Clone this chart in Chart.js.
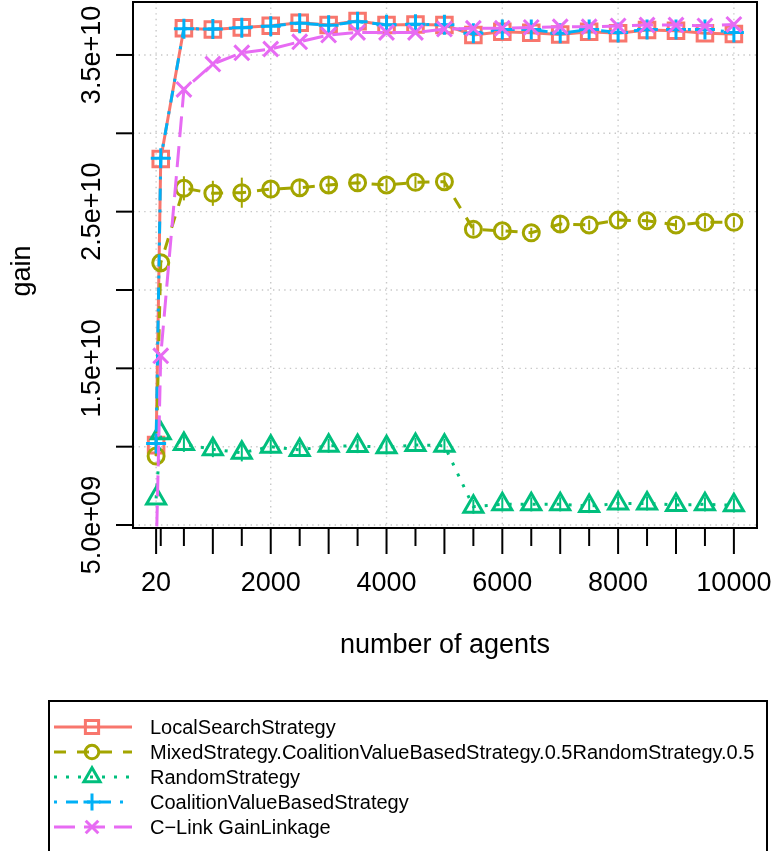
<!DOCTYPE html>
<html>
<head>
<meta charset="utf-8">
<script src="https://cdn.jsdelivr.net/npm/chart.js@4.4.1/dist/chart.umd.min.js"></script>
<style>
html,body{margin:0;padding:0;background:#ffffff;}
canvas{display:block;}
</style>
</head>
<body>
<canvas id="c" width="775" height="851"></canvas>
<script>
// ---------------- data ----------------
const agents = [20, 100, 500, 1000, 1500, 2000, 2500, 3000, 3500, 4000, 4500, 5000,
                5500, 6000, 6500, 7000, 7500, 8000, 8500, 9000, 9500, 10000];

const seriesNames = [
  "LocalSearchStrategy",
  "MixedStrategy.CoalitionValueBasedStrategy.0.5RandomStrategy.0.5",
  "RandomStrategy",
  "CoalitionValueBasedStrategy",
  "C\u2212Link GainLinkage"
];

const localSearch = [1.01e10, 2.836e10, 3.670e10, 3.663e10, 3.676e10, 3.686e10, 3.705e10, 3.691e10, 3.716e10, 3.691e10, 3.695e10,
                     3.691e10, 3.627e10, 3.648e10, 3.642e10, 3.631e10, 3.648e10, 3.638e10, 3.659e10, 3.654e10, 3.638e10, 3.634e10];
const mixed = [9.40e9, 2.174e10, 2.649e10, 2.617e10, 2.621e10, 2.644e10, 2.653e10, 2.670e10, 2.684e10, 2.670e10, 2.687e10,
               2.691e10, 2.387e10, 2.378e10, 2.365e10, 2.421e10, 2.415e10, 2.446e10, 2.442e10, 2.415e10, 2.432e10, 2.432e10];
const randomS = [6.70e9, 1.085e10, 1.017e10, 9.83e9, 9.61e9, 1.000e10, 9.79e9, 1.006e10, 1.004e10, 9.96e9, 1.011e10,
                 1.006e10, 6.17e9, 6.32e9, 6.32e9, 6.32e9, 6.21e9, 6.38e9, 6.38e9, 6.28e9, 6.32e9, 6.26e9];
const coalition = [1.02e10, 2.840e10, 3.668e10, 3.665e10, 3.674e10, 3.684e10, 3.703e10, 3.690e10, 3.712e10, 3.693e10, 3.696e10,
                   3.693e10, 3.638e10, 3.663e10, 3.663e10, 3.638e10, 3.663e10, 3.644e10, 3.663e10, 3.663e10, 3.663e10, 3.644e10];
const cLink = [3.0e9, 1.580e10, 3.280e10, 3.442e10, 3.514e10, 3.538e10, 3.584e10, 3.627e10, 3.644e10, 3.644e10, 3.644e10,
               3.665e10, 3.670e10, 3.670e10, 3.676e10, 3.680e10, 3.680e10, 3.685e10, 3.691e10, 3.691e10, 3.685e10, 3.695e10];

// half-widths of the small error bars
const mixedErr = [0, 0, 7.7e8, 8.0e8, 9.6e8, 4.5e8, 4.5e8, 5.7e8, 4.5e8, 3.8e8, 3.8e8,
                  3.8e8, 3.8e8, 3.8e8, 3.2e8, 5.7e8, 3.2e8, 4.5e8, 3.8e8, 3.2e8, 3.8e8, 3.2e8];
const randomErr = [0, 0, 5.0e8, 5.0e8, 5.5e8, 4.5e8, 4.5e8, 4.5e8, 4.5e8, 4.5e8, 4.5e8,
                   4.5e8, 4.5e8, 4.5e8, 4.5e8, 4.5e8, 4.5e8, 4.5e8, 4.5e8, 4.5e8, 4.5e8, 4.5e8];

const yTickValues = [5e9, 1e10, 1.5e10, 2e10, 2.5e10, 3e10, 3.5e10];
const yTickLabels = ["5.0e+09", "", "1.5e+10", "", "2.5e+10", "", "3.5e+10"];
const xMajorTicks = [20, 1000, 2000, 3000, 4000, 5000, 6000, 7000, 8000, 9000, 10000];
const xMinorTicks = [100, 500, 1500, 2500, 3500, 4500, 5500, 6500, 7500, 8500, 9500];
const xLabelValues = [20, 2000, 4000, 6000, 8000, 10000];
const xLabelTexts = ["20", "2000", "4000", "6000", "8000", "10000"];
const xGridValues = [20, 2000, 4000, 6000, 8000, 10000];
const yGridValues = [5e9, 1e10, 1.5e10, 2e10, 2.5e10, 3e10, 3.5e10];
const xTitle = "number of agents";
const yTitle = "gain";

// ---------------- styles ----------------
const FONT = '"Liberation Sans", Arial, Helvetica, sans-serif';
const colors = ["#F8766D", "#A3A500", "#00BF7D", "#00B0F6", "#E76BF3"];
const dashes = [[], [12, 11], [3, 9], [3, 9, 12, 9], [21, 9]];
const pstyles = ["rect", "circle", "triangle", "cross", "crossRot"];
const pradius = [11, 8, 11, 10, 10.5];
const allSeries = [localSearch, mixed, randomS, coalition, cLink];
const allErr = [null, mixedErr, randomErr, null, null];

const datasets = allSeries.map((vals, i) => ({
  label: seriesNames[i],
  data: agents.map((a, j) => ({x: a, y: vals[j]})),
  borderColor: colors[i],
  backgroundColor: "rgba(0,0,0,0)",
  borderWidth: 3,
  borderDash: dashes[i],
  pointStyle: pstyles[i],
  pointRadius: pradius[i],
  pointBorderWidth: 3,
  pointBorderColor: colors[i],
  pointBackgroundColor: "rgba(0,0,0,0)",
  tension: 0,
  fill: false,
  order: 4 - i
}));

function seg(ctx, x1, y1, x2, y2) { ctx.beginPath(); ctx.moveTo(x1, y1); ctx.lineTo(x2, y2); ctx.stroke(); }

const decor = {
  id: "decor",
  beforeDatasetsDraw(chart) {
    const {ctx, chartArea: a, scales: {x, y}} = chart;
    ctx.save();
    ctx.strokeStyle = "#c8c8c8";
    ctx.lineWidth = 1.4;
    ctx.setLineDash([1.4, 4.2]);
    xGridValues.forEach(v => { const p = x.getPixelForValue(v); seg(ctx, p, a.top, p, a.bottom); });
    yGridValues.forEach(v => { const p = y.getPixelForValue(v); seg(ctx, a.left, p, a.right, p); });
    ctx.restore();
  },
  afterDatasetsDraw(chart) {
    const {ctx, chartArea: a, scales: {x, y}} = chart;
    ctx.save();
    // error bars
    ctx.lineWidth = 2;
    allErr.forEach((errs, i) => {
      if (!errs) return;
      ctx.strokeStyle = colors[i];
      agents.forEach((ag, j) => {
        if (!errs[j]) return;
        const px = x.getPixelForValue(ag);
        seg(ctx, px, y.getPixelForValue(allSeries[i][j] - errs[j]), px, y.getPixelForValue(allSeries[i][j] + errs[j]));
      });
    });
    ctx.setLineDash([]);
    ctx.strokeStyle = "#000";
    ctx.fillStyle = "#000";
    ctx.lineWidth = 2;
    ctx.strokeRect(a.left, a.top, a.right - a.left, a.bottom - a.top);
    // y ticks
    yTickValues.forEach(v => { const p = y.getPixelForValue(v); seg(ctx, a.left, p, a.left - 17, p); });
    // x ticks
    xMajorTicks.forEach(v => { const p = x.getPixelForValue(v); seg(ctx, p, a.bottom, p, a.bottom + 26); });
    xMinorTicks.forEach(v => { const p = x.getPixelForValue(v); seg(ctx, p, a.bottom, p, a.bottom + 18); });
    // x labels
    ctx.font = "27px " + FONT;
    ctx.textAlign = "center";
    ctx.textBaseline = "alphabetic";
    xLabelValues.forEach((v, i) => ctx.fillText(xLabelTexts[i], x.getPixelForValue(v), 591));
    // y labels (rotated)
    yTickValues.forEach((v, i) => {
      if (!yTickLabels[i]) return;
      ctx.save();
      ctx.translate(100, y.getPixelForValue(v));
      ctx.rotate(-Math.PI / 2);
      ctx.fillText(yTickLabels[i], 0, 0);
      ctx.restore();
    });
    // titles
    ctx.fillText(xTitle, (a.left + a.right) / 2, 653);
    ctx.save();
    ctx.translate(30, (a.top + a.bottom) / 2 + 6);
    ctx.rotate(-Math.PI / 2);
    ctx.fillText(yTitle, 0, 0);
    ctx.restore();

    // legend
    ctx.lineWidth = 2;
    ctx.strokeRect(49, 701, 718, 170);
    const rows = [727, 752, 777, 802, 827];
    ctx.font = "20px " + FONT;
    ctx.textAlign = "left";
    chart.data.datasets.forEach((ds, i) => {
      const ry = rows[i];
      ctx.save();
      ctx.strokeStyle = ds.borderColor;
      ctx.lineWidth = ds.borderWidth;
      ctx.setLineDash(ds.borderDash);
      seg(ctx, 54, ry, 132, ry);
      ctx.restore();
      ctx.save();
      ctx.strokeStyle = ds.borderColor;
      ctx.fillStyle = "rgba(0,0,0,0)";
      ctx.lineWidth = ds.pointBorderWidth;
      ctx.setLineDash([]);
      Chart.helpers.drawPoint(ctx, {
        pointStyle: ds.pointStyle, radius: ds.pointRadius * 0.85, borderWidth: ds.pointBorderWidth, rotation: 0
      }, 92, ry);
      ctx.restore();
      ctx.fillStyle = "#000";
      ctx.fillText(ds.label, 150, ry + 7);
    });
    ctx.restore();
  }
};

new Chart(document.getElementById("c"), {
  type: "line",
  data: {datasets},
  options: {
    responsive: false,
    animation: false,
    devicePixelRatio: 1,
    layout: {autoPadding: false, padding: {left: 133, top: 2, right: 18, bottom: 323}},
    plugins: {legend: {display: false}, tooltip: {enabled: false}},
    scales: {
      x: {type: "linear", min: -379.2, max: 10399.2, display: false},
      y: {type: "linear", min: 4.81e9, max: 3.838e10, display: false}
    }
  },
  plugins: [decor]
});
</script>
</body>
</html>
